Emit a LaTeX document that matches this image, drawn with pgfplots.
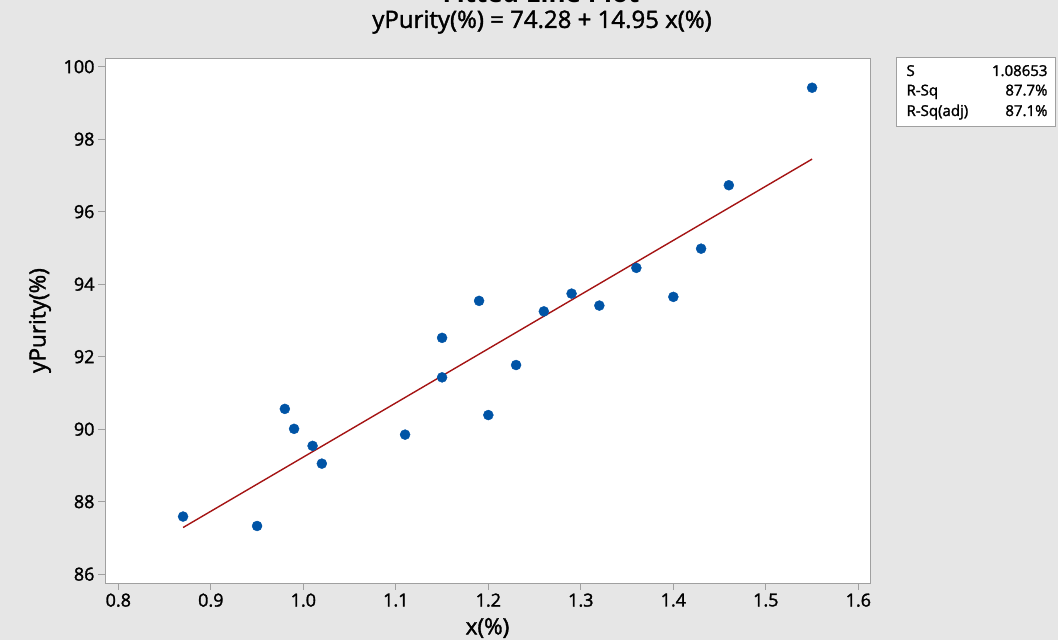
\documentclass[border=0pt]{standalone}
\usepackage{pgfplots}
\pgfplotsset{compat=1.18}
\usepackage{fontspec}
\setmainfont{Open Sans}
\newfontfamily\semi{Open Sans}[FakeBold=1.6]
\definecolor{bg}{RGB}{230,230,230}
\definecolor{frame}{RGB}{160,160,160}
\definecolor{dot}{RGB}{0,84,166}
\definecolor{fitc}{RGB}{165,20,20}
\begin{document}
\begin{tikzpicture}[x=1pt,y=1pt]
\useasboundingbox (0,0) rectangle (1058,640);
\fill[bg] (0,0) rectangle (1058,640);
\begin{scope}
\clip (0,0) rectangle (1058,640);
\node[anchor=base, font=\fontsize{26}{28}\selectfont\bfseries] at (541,637) {Fitted Line Plot};
\end{scope}
\node[font=\fontsize{24}{26}\selectfont\semi] at (542,618) {yPurity(\%) = 74.28 + 14.95 x(\%)};
\begin{axis}[
  at={(105pt,57pt)}, anchor=south west,
  scale only axis, width=765pt, height=525pt,
  xmin=0.7856, xmax=1.6126, ymin=85.757, ymax=100.24,
  xtick={0.8,0.9,1.0,1.1,1.2,1.3,1.4,1.5,1.6},
  ytick={86,88,90,92,94,96,98,100},
  xticklabels={0.8,0.9,1.0,1.1,1.2,1.3,1.4,1.5,1.6},
  /pgf/number format/assume math mode=true,
  tick label style={font=\fontsize{18}{20}\selectfont\semi},
  axis line style={draw=frame},
  tick style={draw=frame, line width=0.8pt},
  tick align=outside, major tick length=7pt,
  xtick pos=bottom, ytick pos=left,
  axis background/.style={fill=white},
  xlabel={x(\%)}, ylabel={yPurity(\%)},
  label style={font=\fontsize{22.5}{24}\selectfont\semi},
  xlabel style={at={(axis description cs:0.5,-0.0857)}, anchor=center},
  ylabel style={at={(axis description cs:-0.085,0.5)}, anchor=center},
]
\addplot[only marks, mark=*, mark size=5pt, color=dot] coordinates {
(0.99,90.01) (1.02,89.05) (1.15,91.43) (1.29,93.74) (1.46,96.73)
(1.36,94.45) (0.87,87.59) (1.23,91.77) (1.55,99.42) (1.40,93.65)
(1.19,93.54) (1.15,92.52) (0.98,90.56) (1.01,89.54) (1.11,89.85)
(1.20,90.39) (1.26,93.25) (1.32,93.41) (1.43,94.98) (0.95,87.33)
};
\addplot[fitc, line width=1.4pt] coordinates {(0.87,87.287) (1.55,97.451)};
\end{axis}
\draw[frame, fill=white] (896,514) rectangle (1055,583);
\begin{scope}[font=\fontsize{15}{17}\selectfont\semi]
\node[anchor=base west] at (903,564) {S};
\node[anchor=base west] at (903,544.5) {R-Sq};
\node[anchor=base west] at (903,524) {R-Sq(adj)};
\node[anchor=base east] at (1051,564) {1.08653};
\node[anchor=base east] at (1051,544.5) {87.7\%};
\node[anchor=base east] at (1051,524) {87.1\%};
\end{scope}
\end{tikzpicture}
\end{document}
